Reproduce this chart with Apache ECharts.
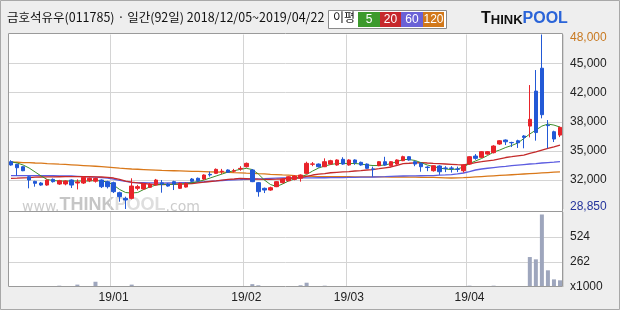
<!DOCTYPE html>
<html><head><meta charset="utf-8">
<script src="https://cdn.jsdelivr.net/npm/echarts@6/dist/echarts.min.js"></script>
<style>html,body{margin:0;padding:0;background:#eeeeee}#c{width:620px;height:310px}</style>
</head><body><div id="c"></div>
<script>
// trading days 2018/12/05 ~ 2019/04/22 (92 days)
const decDays = [5,6,7,10,11,12,13,14,17,18,19,20,21,24,26,27,28];
const janDays = [2,3,4,7,8,9,10,11,14,15,16,17,18,21,22,23,24,25,28,29,30,31];
const febDays = [1,7,8,11,12,13,14,15,18,19,20,21,22,25,26,27,28];
const marDays = [4,5,6,7,8,11,12,13,14,15,18,19,20,21,22,25,26,27,28,29];
const aprDays = [1,2,3,4,5,8,9,10,11,12,15,16,17,18,19,22];

const opens = [34040,33750,33490,32390,31880,31700,31480,32100,31590,31600,
 32030,31700,31700,31950,31900,32030,31850,31740,30640,30020,
 30020,31120,31050,31230,31480,31720,31600,31850,31120,31260,
 32140,32220,32140,32650,32760,32950,33130,33000,33250,33490,
 33130,31740,31120,30930,31300,31740,31950,32100,32220,32760,
 33760,33780,33490,33780,33680,34300,33680,34230,33970,33780,
 33250,33600,34040,33600,33780,34150,34590,34040,33860,33450,
 33050,33570,33350,33350,33230,33050,33780,34660,34520,34880,
 35030,35980,36420,36150,36340,36860,37950,41790,44300,38060,
 37330,36960];
const closes = [33680,33380,33050,32030,31670,31480,32030,31850,31950,31920,
 31480,31800,32320,32220,32200,31300,31300,30750,30200,29840,
 31370,31300,31580,31590,32030,31600,31370,31590,31670,31670,
 31890,31950,32580,32590,33200,33000,32880,33050,33310,33860,
 31850,30750,30930,31190,31850,32140,32390,32470,32580,33860,
 33800,33490,34040,34150,34230,33780,34230,33930,33680,33310,
 33200,34040,33680,34040,34230,34590,34230,33780,33490,33400,
 33600,32940,33300,33300,33200,33680,34590,34410,35140,35140,
 35760,36340,36230,36120,36120,36710,38690,37240,39200,38000,
 36530,37810];
const highs = [34200,33800,33550,32470,31950,31800,32100,32200,32050,32000,
 32100,32100,32400,32300,32300,32100,31950,31850,30750,30200,
 32220,31500,31700,31700,32150,32030,31700,31950,31750,31750,
 32250,32300,32650,32950,33300,33250,33200,33250,33550,33950,
 33230,31800,31200,31300,31900,32200,32450,32550,32650,34040,
 34000,33850,34410,34250,34300,34530,34300,34300,34050,33850,
 33500,34100,34580,34100,34300,34700,34650,34150,33950,33550,
 33650,33650,33550,33550,33500,33750,34650,34880,35200,35200,
 35850,36400,36480,36230,36450,36960,42450,44100,48000,38610,
 37440,37880];
const lows = [33600,32500,33000,31120,31300,31400,31400,31750,31500,31450,
 31150,31000,31600,31800,31750,31150,31100,30600,29650,28850,
 29900,30900,30950,31150,31400,30640,31300,30930,31050,31200,
 31800,31850,32050,32400,32700,32700,32800,32900,33050,33400,
 31800,30200,30600,30850,31250,31650,31900,32000,31850,32700,
 33550,33400,33450,33700,33600,33700,33600,33700,33600,33250,
 32380,33550,33600,33500,33700,34100,34150,33550,32940,33000,
 32950,32600,32900,32850,32900,32850,33700,34250,34450,34800,
 34950,35900,35870,35650,35550,35510,36710,36350,38800,35500,
 36200,36740];
const ma5 = [34040,33900,33680,33350,32910,32470,32090,31980,31920,31920,
 31920,31920,31920,31920,31980,31920,31810,31480,30990,30660,
 30600,30660,30990,31260,31480,31560,31540,31560,31590,31650,
 31730,31870,32030,32250,32470,32690,32910,33050,33200,33310,
 33180,32690,32030,31540,31320,31590,31920,32140,32360,32630,
 33020,33350,33570,33730,33840,33860,33840,33840,33790,33680,
 33620,33620,33680,33840,34060,34280,34280,34170,33930,33680,
 33510,33350,33240,33180,33240,33460,33840,34120,34390,34720,
 35100,35320,35600,35820,36090,36580,37080,37510,37950,38170,
 38060,37840];
const ma20 = [32200,32230,32270,32300,32340,32360,32370,32380,32390,32400,
 32410,32410,32400,32390,32380,32360,32320,32250,32090,31920,
 31810,31720,31650,31590,31560,31540,31550,31570,31590,31610,
 31650,31720,31790,31870,31940,32030,32090,32140,32200,32170,
 32140,32120,32110,32110,32120,32140,32200,32250,32300,32440,
 32580,32670,32740,32830,32880,32920,32960,33020,33070,33130,
 33180,33270,33370,33460,33640,33840,33870,33920,33950,33900,
 33860,33830,33790,33750,33710,33680,33810,33950,34040,34140,
 34220,34360,34500,34590,34690,34770,34960,35130,35320,35510,
 35680,35870];
const ma60 = [32520,32520,32520,32520,32520,32520,32510,32500,32490,32480,
 32470,32440,32400,32370,32340,32300,32230,32140,32000,31870,
 31760,31750,31740,31720,31710,31700,31710,31720,31740,31750,
 31760,31800,31840,31890,31930,31980,32010,32040,32070,32110,
 32140,32160,32180,32210,32230,32250,32250,32260,32260,32270,
 32270,32280,32280,32290,32290,32300,32320,32330,32340,32350,
 32360,32380,32400,32430,32450,32470,32480,32490,32500,32510,
 32520,32560,32590,32630,32710,32800,32960,33130,33240,33320,
 33400,33470,33530,33600,33670,33730,33790,33840,33900,33950,
 34000,34060];
const ma120 = [34000,33980,33950,33930,33900,33880,33840,33810,33770,33740,
 33700,33660,33620,33580,33540,33500,33450,33400,33340,33290,
 33240,33210,33180,33150,33120,33090,33070,33050,33030,33010,
 32990,32970,32950,32930,32910,32890,32870,32840,32820,32790,
 32770,32730,32700,32660,32630,32590,32560,32520,32490,32450,
 32420,32410,32410,32400,32400,32390,32390,32380,32380,32370,
 32370,32370,32370,32360,32360,32360,32350,32340,32330,32320,
 32310,32290,32270,32250,32260,32290,32330,32370,32410,32450,
 32490,32530,32570,32610,32650,32690,32730,32770,32810,32850,
 32890,32930];
// volume, x1000 shares
const volumes = [6,6,6,6,6,6,6,6,14,6,
 6,25,6,6,55,6,6,6,6,6,
 25,6,6,6,6,6,6,6,6,6,
 6,10,6,10,6,10,6,6,6,6,
 30,18,6,6,6,6,6,6,18,45,
 6,6,14,6,6,6,6,6,6,6,
 6,10,6,6,6,6,6,6,6,6,
 6,6,6,6,6,6,14,6,6,6,
 14,6,6,6,6,6,314,290,760,175,
 80,70];
const priceTickLabels = ['28,850','32,000','35,000','38,000','42,000','45,000','48,000'];
const volTickLabels = ['x1000','262','524',''];
const priceMin = 28850, priceMax = 48000, volMax = 786;

const pad = n => (n < 10 ? '0' : '') + n;
const cats = [].concat(
  decDays.map(d => '2018/12/' + pad(d)),
  janDays.map(d => '2019/01/' + pad(d)),
  febDays.map(d => '2019/02/' + pad(d)),
  marDays.map(d => '2019/03/' + pad(d)),
  aprDays.map(d => '2019/04/' + pad(d)));
const monthStarts = {};
cats.forEach((c, i) => { if (i > 0 && c.slice(0, 7) !== cats[i - 1].slice(0, 7)) monthStarts[i] = true; });
const isMonthStart = i => !!monthStarts[i];
const candles = cats.map((c, i) => [opens[i], closes[i], lows[i], highs[i]]);

const UP = '#e8232a', DOWN = '#2259d6';
const FONT = '"Liberation Sans", Arial, sans-serif';
const KFONT = '"Noto Sans CJK KR", sans-serif';
const L = 8, W = 555;

const chart = echarts.init(document.getElementById('c'), null, {renderer: 'canvas'});
chart.setOption({
  animation: false,
  backgroundColor: '#eeeeee',
  grid: [
    {left: L, width: W, top: 34.5, height: 174.5},
    {left: L, width: W, top: 212, height: 75}
  ],
  xAxis: [
    {type: 'category', gridIndex: 0, data: cats, boundaryGap: true,
     axisLine: {show: false}, axisTick: {show: false}, axisLabel: {show: false},
     splitLine: {show: true, interval: isMonthStart, lineStyle: {color: '#d4d4d4', width: 1}}},
    {type: 'category', gridIndex: 1, data: cats, boundaryGap: true,
     axisLine: {show: false}, axisTick: {show: false},
     axisLabel: {show: true, interval: isMonthStart, margin: 5, color: '#222', fontSize: 12, fontFamily: FONT,
       formatter: v => v.slice(2, 7)},
     splitLine: {show: true, interval: isMonthStart, lineStyle: {color: '#d4d4d4', width: 1}}}
  ],
  yAxis: [
    {type: 'value', gridIndex: 0, min: priceMin, max: priceMax, show: false},
    {type: 'value', gridIndex: 0, min: 0, max: priceTickLabels.length - 1, interval: 1, position: 'right',
     axisLine: {show: false}, axisTick: {show: false},
     splitLine: {show: true, showMinLine: false, showMaxLine: false, lineStyle: {color: '#d4d4d4'}},
     axisLabel: {show: true, margin: 7, align: 'left', color: '#222', fontSize: 12, fontFamily: FONT,
       formatter: function (v) {
         const i = Math.round(v), t = priceTickLabels[i];
         if (i === priceTickLabels.length - 1) return '{mx|' + t + '}';
         if (i === 0) return '{mn|' + t + '}';
         return t;
       },
       rich: {
         mx: {color: '#c87a22', fontSize: 12, fontFamily: FONT, padding: [7, 0, 0, 0]},
         mn: {color: '#24349c', fontSize: 12, fontFamily: FONT, padding: [0, 0, 5, 0]}
       }}},
    {type: 'value', gridIndex: 1, min: 0, max: volMax, interval: volMax / 3, position: 'right',
     axisLine: {show: false}, axisTick: {show: false},
     splitLine: {show: true, showMinLine: false, showMaxLine: false, lineStyle: {color: '#d4d4d4'}},
     axisLabel: {show: true, margin: 7, align: 'left', color: '#222', fontSize: 12, fontFamily: FONT,
       formatter: v => volTickLabels[Math.round(v / (volMax / 3))]}}
  ],
  series: [
    {type: 'line', name: 'MA120', xAxisIndex: 0, yAxisIndex: 0, data: ma120, showSymbol: false,
     lineStyle: {color: '#d9781a', width: 1.3}, z: 2},
    {type: 'line', name: 'MA60', xAxisIndex: 0, yAxisIndex: 0, data: ma60, showSymbol: false,
     lineStyle: {color: '#5c5ce0', width: 1.3}, z: 2},
    {type: 'line', name: 'MA20', xAxisIndex: 0, yAxisIndex: 0, data: ma20, showSymbol: false,
     lineStyle: {color: '#c42a2a', width: 1.3}, z: 2},
    {type: 'line', name: 'MA5', xAxisIndex: 0, yAxisIndex: 0, data: ma5, showSymbol: false,
     lineStyle: {color: '#3c8f2c', width: 1}, z: 2},
    {type: 'candlestick', xAxisIndex: 0, yAxisIndex: 0, data: candles, barWidth: 4, z: 3,
     itemStyle: {color: UP, color0: DOWN, borderColor: UP, borderColor0: DOWN, borderWidth: 1}},
    {type: 'bar', xAxisIndex: 1, yAxisIndex: 2, data: volumes, barWidth: 4,
     itemStyle: {color: '#9ea6bd'}}
  ],
  graphic: [
    {type: 'rect', z: -20, silent: true, shape: {x: L, y: 33, width: W, height: 254}, style: {fill: '#ffffff'}},
    {type: 'text', z: -10, silent: true, left: 22, top: 196,
     style: {text: '{a|www.}{b|THINK}{c|POOL}{a|.com}', rich: {
       a: {fontSize: 14, fontFamily: 'Verdana, "DejaVu Sans", sans-serif', fill: '#cccccc', verticalAlign: 'bottom', padding: [3, 0, 0, 0]},
       b: {fontSize: 18, fontWeight: 'bold', fontFamily: FONT, fill: '#c6c6c6'},
       c: {fontSize: 18, fontWeight: 'bold', fontFamily: FONT, fill: '#dedede'}
     }}},
    {type: 'rect', z: 100, silent: true, shape: {x: L + 0.5, y: 33.5, width: W - 1, height: 178}, style: {fill: 'none', stroke: '#9a9a9a', lineWidth: 1}},
    {type: 'rect', z: 100, silent: true, shape: {x: L + 0.5, y: 211.5, width: W - 1, height: 75}, style: {fill: 'none', stroke: '#9a9a9a', lineWidth: 1}},
    {type: 'rect', z: 100, silent: true, shape: {x: 0.5, y: 0.5, width: 619, height: 309}, style: {fill: 'none', stroke: '#a8a8a8', lineWidth: 1}},
    {type: 'text', z: 100, silent: true, left: 7, top: 11,
     style: {text: '금호석유우(011785) · 일간(92일) 2018/12/05~2019/04/22', fontSize: 12.5, fontFamily: KFONT, fill: '#111'}},
    {type: 'rect', z: 100, silent: true, shape: {x: 328.5, y: 10.5, width: 118, height: 18}, style: {fill: '#ffffff', stroke: '#8a8a8a', lineWidth: 1}},
    {type: 'text', z: 101, silent: true, left: 333, top: 11.5,
     style: {text: '이평', fontSize: 12, fontFamily: KFONT, fill: '#111'}},
    {type: 'rect', z: 101, silent: true, shape: {x: 358, y: 12, width: 22, height: 15}, style: {fill: '#3c9a2c'}},
    {type: 'rect', z: 101, silent: true, shape: {x: 380, y: 12, width: 21, height: 15}, style: {fill: '#c6282c'}},
    {type: 'rect', z: 101, silent: true, shape: {x: 401, y: 12, width: 22, height: 15}, style: {fill: '#6a62d6'}},
    {type: 'rect', z: 101, silent: true, shape: {x: 423, y: 12, width: 21, height: 15}, style: {fill: '#d2781a'}},
    {type: 'text', z: 102, silent: true, x: 369, y: 19.5, style: {text: '5', fontSize: 12, fontFamily: FONT, fill: '#fff', align: 'center', verticalAlign: 'middle'}},
    {type: 'text', z: 102, silent: true, x: 390.5, y: 19.5, style: {text: '20', fontSize: 12, fontFamily: FONT, fill: '#fff', align: 'center', verticalAlign: 'middle'}},
    {type: 'text', z: 102, silent: true, x: 412, y: 19.5, style: {text: '60', fontSize: 12, fontFamily: FONT, fill: '#fff', align: 'center', verticalAlign: 'middle'}},
    {type: 'text', z: 102, silent: true, x: 433.5, y: 19.5, style: {text: '120', fontSize: 12, fontFamily: FONT, fill: '#fff', align: 'center', verticalAlign: 'middle'}},
    {type: 'text', z: 100, silent: true, left: 481, top: 11,
     style: {text: '{a|T}{b|HINK}{c|POOL}', rich: {
       a: {fontSize: 16, fontWeight: 'bold', fontFamily: FONT, fill: '#111', verticalAlign: 'bottom'},
       b: {fontSize: 13, fontWeight: 'bold', fontFamily: FONT, fill: '#111', verticalAlign: 'bottom'},
       c: {fontSize: 16, fontWeight: 'bold', fontFamily: FONT, fill: '#2a64d8', verticalAlign: 'bottom'}
     }}}
  ]
});
</script>
</body></html>
